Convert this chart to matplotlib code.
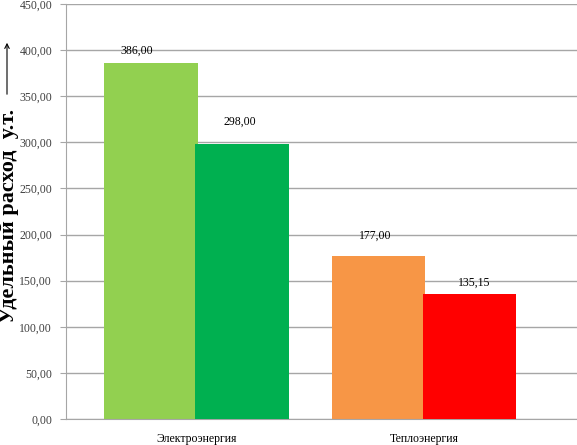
import matplotlib
matplotlib.use('Agg')
import matplotlib.pyplot as plt
import numpy as np

categories = ['Электроэнергия', 'Теплоэнергия']
values_a = [386.00, 177.00]
values_b = [298.00, 135.15]
labels_a = ['386,00', '177,00']
labels_b = ['298,00', '135,15']
colors_a = ['#92D050', '#F79646']
colors_b = ['#00B050', '#FF0000']
yticks = np.arange(0, 451, 50)

plt.rcParams['font.family'] = ['Liberation Serif', 'DejaVu Serif']

fig = plt.figure(figsize=(5.77, 4.45), dpi=100)
ax = fig.add_axes([66 / 577, 1 - 419 / 445, 1 - 66 / 577, 415 / 445])

x = np.arange(len(categories))
w = 0.41
ax.bar(x - 0.2, values_a, w, color=colors_a, zorder=2)
ax.bar(x + 0.2, values_b, w, color=colors_b, zorder=3)

# подписи значений (смещения в пикселях, как в исходнике)
offs_a = [(-14, 12), (-3, 20)]
offs_b = [(-2, 22), (5, 12)]
for i in range(len(categories)):
    ax.annotate(labels_a[i], (x[i] - 0.2, values_a[i]), xytext=offs_a[i],
                textcoords='offset pixels', ha='center', va='center', fontsize=8.5, zorder=5)
    ax.annotate(labels_b[i], (x[i] + 0.2, values_b[i]), xytext=offs_b[i],
                textcoords='offset pixels', ha='center', va='center', fontsize=8.5, zorder=5)

ax.set_xlim(-0.574, 1.673)
ax.set_ylim(0, 450)
ax.set_yticks(yticks)
ax.set_yticklabels([('%.2f' % v).replace('.', ',') for v in yticks])
ax.yaxis.grid(True, color='#a6a6a6', linewidth=1, zorder=0)
ax.set_axisbelow(True)
ax.set_xticks(x)
ax.set_xticklabels(categories)
ax.tick_params(axis='x', length=0, labelsize=8.5, pad=10)
ax.tick_params(axis='y', length=4, color='#a6a6a6', labelsize=8.5, pad=6, labelcolor='#404040')
for s in ['top', 'right']:
    ax.spines[s].set_visible(False)
for s in ['left', 'bottom']:
    ax.spines[s].set_color('#a6a6a6')

fig.text(9 / 577, 1 - 216 / 445, 'Удельный расход  у.т.', rotation=90, ha='center', va='center',
         fontsize=16, fontweight='bold')
fig.add_artist(matplotlib.patches.FancyArrowPatch((7 / 577, 1 - 97 / 445), (7 / 577, 1 - 40 / 445),
               transform=fig.transFigure, arrowstyle='->', mutation_scale=8, color='black', lw=0.8))

fig.savefig('out.png', dpi=100)
